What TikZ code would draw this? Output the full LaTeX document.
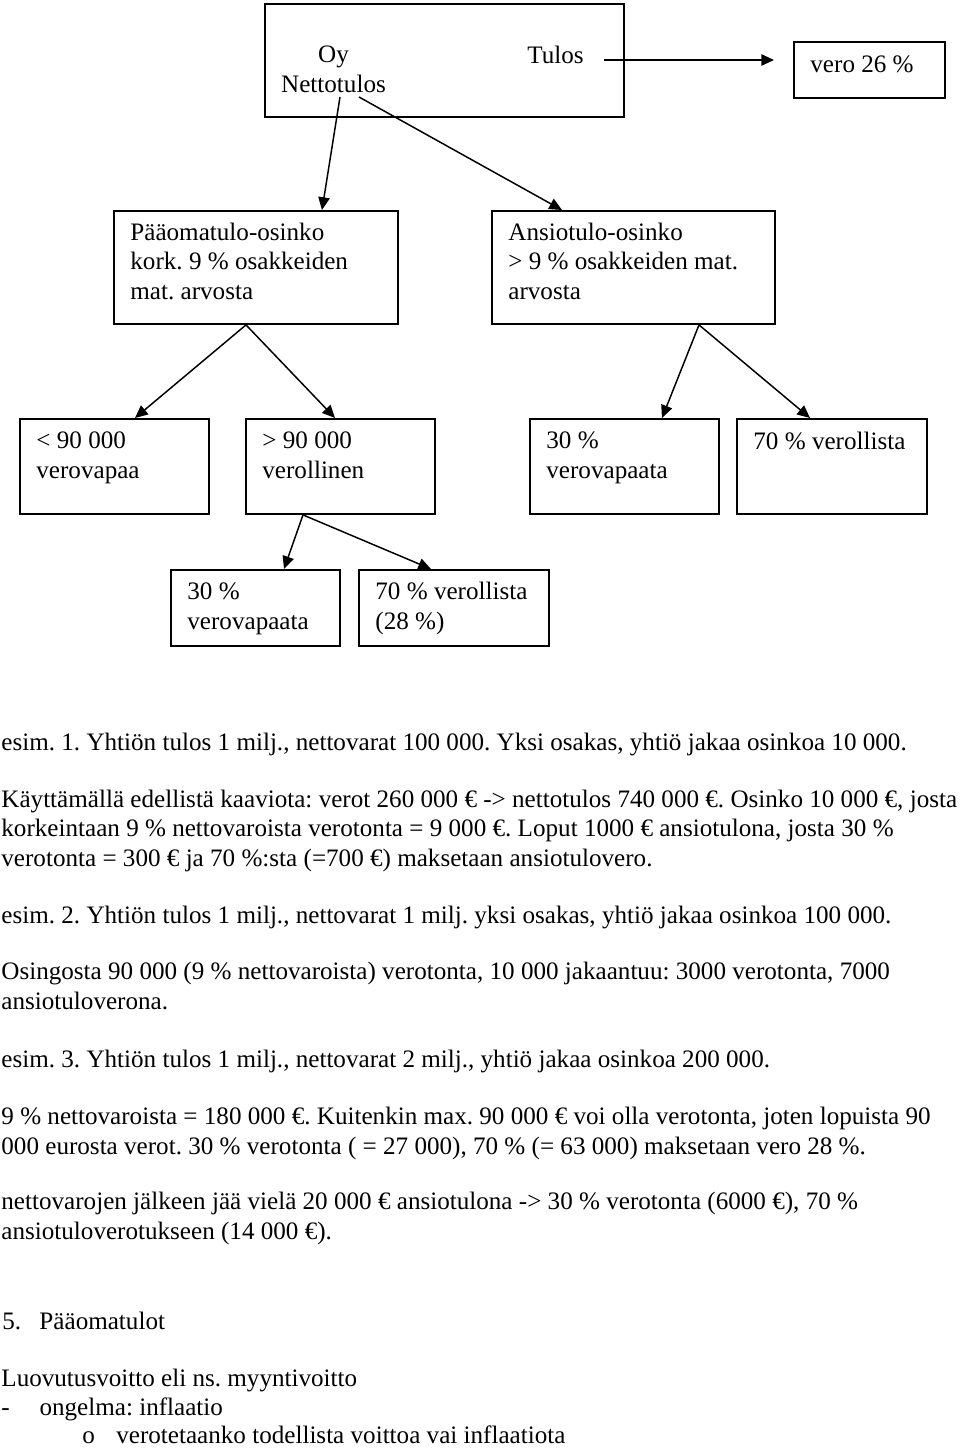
\documentclass[tikz,border=0pt]{standalone}
\usepackage{fontspec}
\setmainfont{Liberation Serif}
\usetikzlibrary{arrows.meta, calc}
\newcommand\pxu{0.4719pt}
\tikzset{
  box/.style 2 args={draw, rectangle, anchor=north west, inner sep=0pt, line width=0.9pt,
    minimum width=#1*\pxu, minimum height=#2*\pxu},
  txt/.style={anchor=base west, inner sep=0pt, align=left},
  arr/.style={-{Triangle[length=6pt, width=5.4pt]}, line width=0.7pt},
}

\begin{document}
\frenchspacing
\begin{tikzpicture}[x=0.4719pt, y=-0.4719pt, font=\fontsize{11.85pt}{13.7pt}\selectfont]
  \useasboundingbox (0,0) rectangle (960,1449);

  % kaavio
  \node[box={359}{113}] (oy) at (264,3) {};
  \node[anchor=base, inner sep=0pt, align=center] (oynet) at (333.5,92) {Oy\\Nettotulos};
  \node[txt] (tulos) at (527,63) {Tulos};
  \node[box={151}{56}] (vero) at (793,41) {};
  \node[txt] at ($(vero.north west)+(17,31)$) {vero 26 \%};

  \node[box={284}{113}] (pao) at (113,210) {};
  \node[txt] at ($(pao.north west)+(17,89)$) {Pääomatulo-osinko\\kork. 9 \% osakkeiden\\mat. arvosta};
  \node[box={283}{113}] (ans) at (491,210) {};
  \node[txt] at ($(ans.north west)+(17,89)$) {Ansiotulo-osinko\\> 9 \% osakkeiden mat.\\arvosta};

  \node[box={189}{95}] (alle) at (19,418) {};
  \node[txt] at ($(alle.north west)+(17,60)$) {< 90 000\\verovapaa};
  \node[box={189}{95}] (yli) at (245,418) {};
  \node[txt] at ($(yli.north west)+(17,60)$) {> 90 000\\verollinen};
  \node[box={189}{95}] (ansvap) at (529,418) {};
  \node[txt] at ($(ansvap.north west)+(17,60)$) {30 \%\\verovapaata};
  \node[box={190}{95}] (ansver) at (736,418) {};
  \node[txt] at ($(ansver.north west)+(17,31)$) {70 \% verollista};

  \node[box={169}{76}] (ylivap) at (170,569) {};
  \node[txt] at ($(ylivap.north west)+(17,60)$) {30 \%\\verovapaata};
  \node[box={190}{76}] (yliver) at (358,569) {};
  \node[txt] at ($(yliver.north west)+(17,60)$) {70 \% verollista\\(28 \%)};

  \coordinate (tout) at (604,60);
  \coordinate (nout1) at (340,97);
  \coordinate (nout2) at (359,97);
  \draw[arr] (tout) -- ($(vero.north west)+(-19,19)$);
  \draw[arr] (nout1) -- ($(pao.north west)+(209,0)$);
  \draw[arr] (nout2) -- ($(ans.north west)+(71,0)$);
  \draw[arr] ($(pao.south west)+(133,0)$) -- ($(alle.north west)+(116,0)$);
  \draw[arr] ($(pao.south west)+(133,0)$) -- ($(yli.north west)+(90,0)$);
  \draw[arr] ($(ans.south west)+(208,0)$) -- ($(ansvap.north west)+(133,0)$);
  \draw[arr] ($(ans.south west)+(208,0)$) -- ($(ansver.north west)+(74,0)$);
  \draw[arr] ($(yli.south west)+(58,0)$) -- ($(ylivap.north west)+(114,0)$);
  \draw[arr] ($(yli.south west)+(58,0)$) -- ($(yliver.north west)+(73,0)$);

  % teksti
  \node[txt] (esim1) at (1,750) {esim. 1. Yhtiön tulos 1 milj., nettovarat 100 000. Yksi osakas, yhtiö jakaa osinkoa 10 000.};
  \node[txt] (kaytto) at (1,866) {Käyttämällä edellistä kaaviota: verot 260 000 € -> nettotulos 740 000 €. Osinko 10 000 €, josta\\korkeintaan 9 \% nettovaroista verotonta = 9 000 €. Loput 1000 € ansiotulona, josta 30 \%\\verotonta = 300 € ja 70 \%:sta (=700 €) maksetaan ansiotulovero.};
  \node[txt] (esim2) at (1,923) {esim. 2. Yhtiön tulos 1 milj., nettovarat 1 milj. yksi osakas, yhtiö jakaa osinkoa 100 000.};
  \node[txt] (osing) at (1,1009) {Osingosta 90 000 (9 \% nettovaroista) verotonta, 10 000 jakaantuu: 3000 verotonta, 7000\\ansiotuloverona.};
  \node[txt] (esim3) at (1,1067) {esim. 3. Yhtiön tulos 1 milj., nettovarat 2 milj., yhtiö jakaa osinkoa 200 000.};
  \node[txt] (netto9) at (1,1154) {9 \% nettovaroista = 180 000 €. Kuitenkin max. 90 000 € voi olla verotonta, joten lopuista 90\\000 eurosta verot. 30 \% verotonta ( = 27 000), 70 \% (= 63 000) maksetaan vero 28 \%.};
  \node[txt] (jaa) at (1,1239) {nettovarojen jälkeen jää vielä 20 000 € ansiotulona -> 30 \% verotonta (6000 €), 70 \%\\ansiotuloverotukseen (14 000 €).};
  \node[txt] (paaom) at (2,1329) {\makebox[17.5pt][l]{5.}Pääomatulot};
  \node[txt] (luov) at (1,1386) {Luovutusvoitto eli ns. myyntivoitto};
  \node[txt] (ong) at (1,1415) {\makebox[18pt][l]{-}ongelma: inflaatio};
  \node[txt] (verot) at (82,1443) {\makebox[16pt][l]{o}verotetaanko todellista voittoa vai inflaatiota};
\end{tikzpicture}
\end{document}
